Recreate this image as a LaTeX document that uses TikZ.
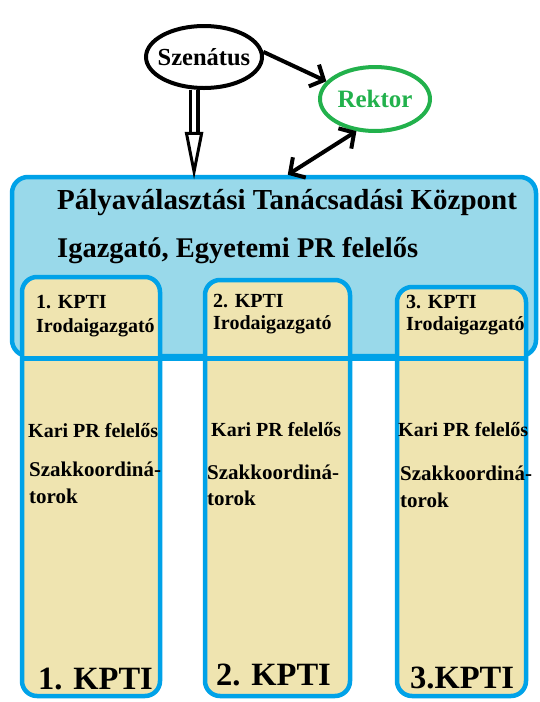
\documentclass[tikz,border=0pt]{standalone}
\usepackage{fontspec}
\setmainfont{Liberation Serif}
\usetikzlibrary{arrows.meta,shapes.geometric,positioning}
\definecolor{paintblue}{HTML}{00A2E8}
\definecolor{lightblue}{HTML}{99D9EA}
\definecolor{painttan}{HTML}{EFE4B0}
\definecolor{paintgreen}{HTML}{22B14C}
\newcommand{\pxfont}[1]{\fontsize{#1}{#1}\selectfont\bfseries}

\tikzset{
  oval/.style={draw, ellipse, line width=4pt, inner xsep=-6pt, inner ysep=0pt},
  kptibox/.style={draw=paintblue, fill=painttan, line width=4.5pt, rounded corners=15pt},
  txt/.style={anchor=base west, inner sep=0pt},
  barb/.style={line width=4pt, -{Straight Barb[length=11pt,width=24pt]}}
}

\begin{document}
\begin{tikzpicture}[x=1pt,y=-1pt]
\useasboundingbox (0,0) rectangle (540,702);

% felso szint
\node[oval, minimum width=116pt, minimum height=62pt] (sen) at (204,57) {\pxfont{24.5}Szenátus};
\node[oval, draw=paintgreen, text=paintgreen, minimum width=110pt, minimum height=64pt] (rek) at (375,99) {\pxfont{25}Rektor};

% kozpont
\node[draw=paintblue, fill=lightblue, line width=4.5pt, rounded corners=16pt,
      minimum width=524pt, minimum height=179pt] (ptk) at (274,266.5) {};
\node[txt] (ptk1) at (57,209) {\pxfont{29}Pályaválasztási Tanácsadási Központ};
\node[txt] (ptk2) at (57,257) {\pxfont{28.5}Igazgató, Egyetemi PR felelős};

% karok
\node[kptibox, minimum width=138pt, minimum height=419pt] (k1) at (91,486.5) {};
\node[kptibox, minimum width=145pt, minimum height=416pt] (k2) at (277.5,488) {};
\node[kptibox, minimum width=129pt, minimum height=409pt] (k3) at (461.5,491.5) {};
\draw[paintblue, line width=4.5pt] ([xshift=12pt]ptk.south west) -- ([xshift=-12pt]ptk.south east);

\node[txt] (i1a) at (36,308) {\pxfont{20}1. KPTI};
\node[txt] (i1b) at (36,332) {\pxfont{20}Irodaigazgató};
\node[txt] (i2a) at (213,307) {\pxfont{20}2. KPTI};
\node[txt] (i2b) at (213,329) {\pxfont{20}Irodaigazgató};
\node[txt] (i3a) at (406,308) {\pxfont{20}3. KPTI};
\node[txt] (i3b) at (406,330) {\pxfont{20}Irodaigazgató};

\node[txt] (pr1) at (28,437) {\pxfont{20}Kari PR felelős};
\node[txt] (pr2) at (211,436) {\pxfont{20}Kari PR felelős};
\node[txt] (pr3) at (398,436) {\pxfont{20}Kari PR felelős};

\node[txt] (sz1) at (29,476) {\pxfont{21}Szakkoordiná-};
\node[txt] (sz1b) at (29,503) {\pxfont{21}torok};
\node[txt] (sz2) at (207,479) {\pxfont{21}Szakkoordiná-};
\node[txt] (sz2b) at (207,505) {\pxfont{21}torok};
\node[txt] (sz3) at (400,480) {\pxfont{21}Szakkoordiná-};
\node[txt] (sz3b) at (400,507) {\pxfont{21}torok};

\node[txt] (n1) at (38,689) {\pxfont{32.5}1. KPTI};
\node[txt] (n2) at (216,685) {\pxfont{32.5}2. KPTI};
\node[txt] (n3) at (410,688) {\pxfont{32.5}3.KPTI};

% nyilak
\draw[barb] (sen.5) -- (rek.160);
\draw[line width=4pt, {Straight Barb[length=11pt,width=24pt]}-{Straight Barb[length=11pt,width=24pt]}]
  (rek.240) -- ([xshift=278pt]ptk.north west);
\draw[double, double distance=4pt, line width=3.5pt, shorten >=-5pt,
      -{Triangle[open,length=48pt,width=18pt,line width=3pt]}] (sen.253) -- (sen.253 |- ptk.north);
\end{tikzpicture}
\end{document}
